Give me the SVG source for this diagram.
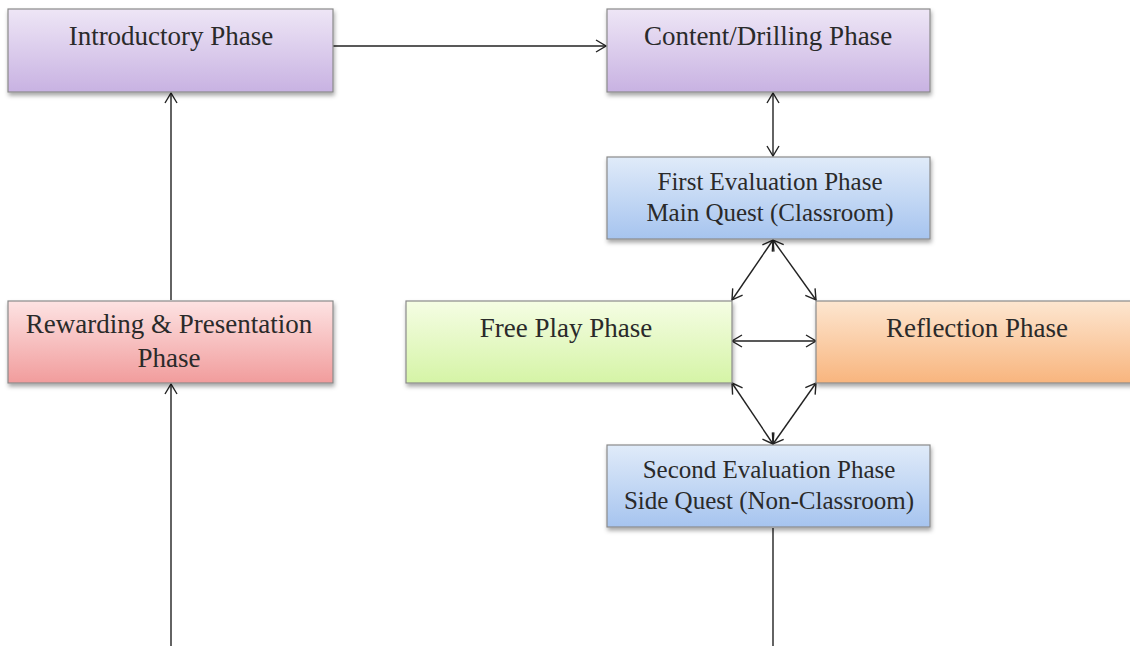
<svg xmlns="http://www.w3.org/2000/svg" width="1130" height="646" viewBox="0 0 1130 646">
  <style>
    .box { stroke: #8a8a8a; stroke-width: 1.2; filter: url(#shadow); }
    .lbl { font-family: "Liberation Serif", "Times New Roman", serif; font-size: 27px; fill: #2a2a2a; text-anchor: middle; }
    .lbl.sm { font-size: 25px; }
    .edge { fill: none; stroke: #222; stroke-width: 1.4; }
    .arr { marker-end: url(#head); }
    .both { marker-start: url(#head); marker-end: url(#head); }
  </style>
  <defs>
    <filter id="shadow" x="-5%" y="-10%" width="112%" height="130%">
      <feDropShadow dx="1" dy="3" stdDeviation="2" flood-color="#000" flood-opacity="0.35"/>
    </filter>
    <marker id="head" viewBox="0 0 12 14" refX="11" refY="7" markerWidth="12" markerHeight="14" markerUnits="userSpaceOnUse" orient="auto-start-reverse">
      <path d="M1,1 L11,7 L1,13" fill="none" stroke="#222" stroke-width="1.4"/>
    </marker>
    <linearGradient id="gPurple" x1="0" y1="0" x2="0" y2="1">
      <stop offset="0" stop-color="#eee6f6"/>
      <stop offset="1" stop-color="#c8b2e2"/>
    </linearGradient>
    <linearGradient id="gBlue" x1="0" y1="0" x2="0" y2="1">
      <stop offset="0" stop-color="#e0ebf9"/>
      <stop offset="1" stop-color="#a6c4ef"/>
    </linearGradient>
    <linearGradient id="gRed" x1="0" y1="0" x2="0" y2="1">
      <stop offset="0" stop-color="#fde3e3"/>
      <stop offset="1" stop-color="#f19c9c"/>
    </linearGradient>
    <linearGradient id="gGreen" x1="0" y1="0" x2="0" y2="1">
      <stop offset="0" stop-color="#f5fde4"/>
      <stop offset="1" stop-color="#d5f4a6"/>
    </linearGradient>
    <linearGradient id="gOrange" x1="0" y1="0" x2="0" y2="1">
      <stop offset="0" stop-color="#fde6d0"/>
      <stop offset="1" stop-color="#f8b57e"/>
    </linearGradient>
  </defs>

  <rect width="1130" height="646" fill="#ffffff"/>

  <g id="connectors">
    <line class="edge arr" x1="333" y1="46" x2="606" y2="46"/>
    <line class="edge both" x1="773" y1="93" x2="773" y2="156"/>
    <line class="edge both" x1="773" y1="240" x2="732" y2="300"/>
    <line class="edge both" x1="773" y1="240" x2="816" y2="300"/>
    <line class="edge both" x1="732" y1="341" x2="816" y2="341"/>
    <line class="edge both" x1="732" y1="383" x2="773" y2="444"/>
    <line class="edge both" x1="816" y1="383" x2="773" y2="444"/>
    <line class="edge" x1="773" y1="528" x2="773" y2="646"/>
    <line class="edge arr" x1="171" y1="646" x2="171" y2="384"/>
    <line class="edge arr" x1="171" y1="300" x2="171" y2="93"/>
  </g>

  <g id="introductory">
    <rect class="box" x="8" y="9" width="325" height="83" fill="url(#gPurple)"/>
    <text class="lbl" x="171" y="45">Introductory Phase</text>
  </g>
  <g id="content-drilling">
    <rect class="box" x="607" y="9" width="323" height="83" fill="url(#gPurple)"/>
    <text class="lbl" x="768" y="45">Content/Drilling Phase</text>
  </g>
  <g id="first-evaluation">
    <rect class="box" x="607" y="157" width="323" height="82" fill="url(#gBlue)"/>
    <text class="lbl sm" x="770" y="190">First Evaluation Phase</text>
    <text class="lbl sm" x="770" y="221">Main Quest (Classroom)</text>
  </g>
  <g id="rewarding">
    <rect class="box" x="8" y="301" width="325" height="82" fill="url(#gRed)"/>
    <text class="lbl" x="169" y="333">Rewarding &amp; Presentation</text>
    <text class="lbl" x="169" y="367">Phase</text>
  </g>
  <g id="free-play">
    <rect class="box" x="406" y="301" width="326" height="82" fill="url(#gGreen)"/>
    <text class="lbl" x="566" y="337">Free Play Phase</text>
  </g>
  <g id="reflection">
    <rect class="box" x="816" y="301" width="326" height="82" fill="url(#gOrange)"/>
    <text class="lbl" x="977" y="337">Reflection Phase</text>
  </g>
  <g id="second-evaluation">
    <rect class="box" x="607" y="445" width="323" height="82" fill="url(#gBlue)"/>
    <text class="lbl sm" x="769" y="478">Second Evaluation Phase</text>
    <text class="lbl sm" x="769" y="509">Side Quest (Non-Classroom)</text>
  </g>
</svg>
